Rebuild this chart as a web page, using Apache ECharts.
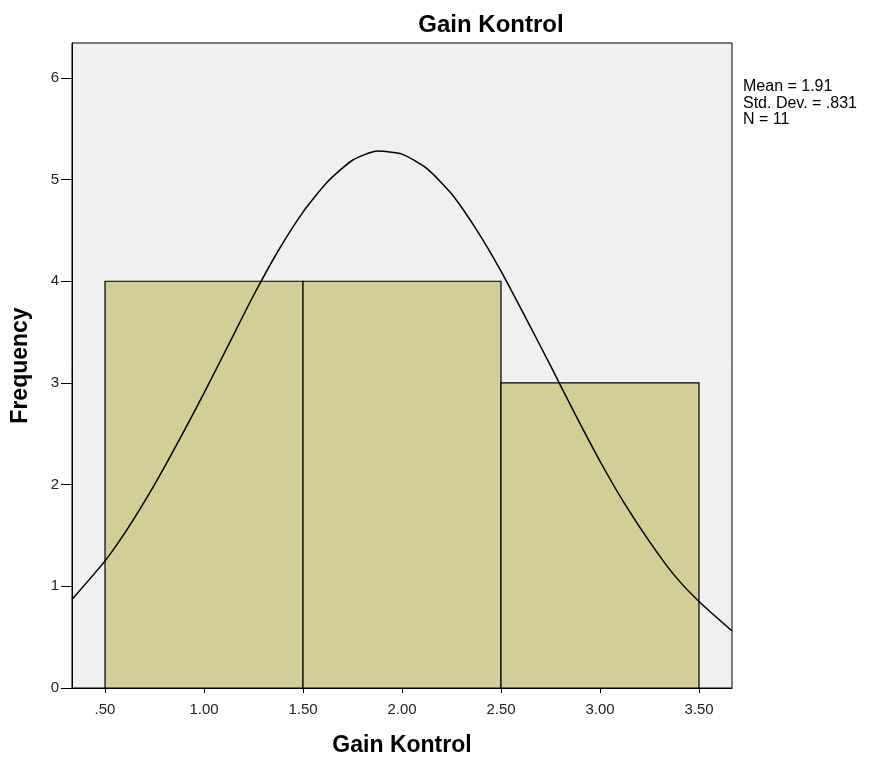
<!DOCTYPE html>
<html><head><meta charset="utf-8">
<script src="https://cdn.jsdelivr.net/npm/echarts@6/dist/echarts.min.js"></script>
<style>html,body{margin:0;padding:0;background:#fff}#c{width:869px;height:765px}</style>
</head><body><div id="c"></div>
<script>
const binStart = [0.5, 1.5, 2.5];
const binEnd = [1.5, 2.5, 3.5];
const counts = [4, 4, 3];
const curveX = [0.333, 0.5, 0.625, 0.75, 0.875, 1.0, 1.125, 1.25, 1.375, 1.5, 1.625, 1.75, 1.875, 2.0, 2.125, 2.25, 2.375, 2.5, 2.625, 2.75, 2.875, 3.0, 3.125, 3.25, 3.375, 3.5, 3.667];
const curveY = [0.87, 1.25, 1.60, 2.00, 2.44, 2.90, 3.38, 3.86, 4.30, 4.68, 4.98, 5.19, 5.28, 5.25, 5.11, 4.86, 4.51, 4.10, 3.64, 3.17, 2.69, 2.23, 1.81, 1.44, 1.11, 0.85, 0.56];
const xTicks = [0.5, 1.0, 1.5, 2.0, 2.5, 3.0, 3.5];
const yTicks = [0, 1, 2, 3, 4, 5, 6];
const statLines = ['Mean = 1.91', 'Std. Dev. = .831', 'N = 11'];

const chart = echarts.init(document.getElementById('c'));
const font = 'Arial, "Liberation Sans", sans-serif';
chart.setOption({
  animation: false,
  title: { text: 'Gain Kontrol', left: 486, top: 8, textAlign: 'center',
    textStyle: { fontFamily: font, fontSize: 24, fontWeight: 'bold', color: '#000' } },
  grid: { left: 72, right: 137, top: 43, bottom: 77, show: true, backgroundColor: '#f0f0f0', borderColor: '#000', borderWidth: 1 },
  xAxis: {
    type: 'value', min: 0.3333, max: 3.6667,
    name: 'Gain Kontrol', nameLocation: 'middle', nameGap: 46,
    nameTextStyle: { fontFamily: font, fontSize: 23, fontWeight: 'bold', color: '#000' },
    axisLine: { show: true, lineStyle: { color: '#000', width: 1 } },
    axisTick: { show: true, length: 5, lineStyle: { color: '#000' }, customValues: xTicks },
    axisLabel: { customValues: xTicks, fontFamily: font, fontSize: 15, color: '#222', margin: 14,
      formatter: v => { const s = v.toFixed(2); return s.startsWith('0') ? s.slice(1) : s; } },
    splitLine: { show: false }
  },
  yAxis: {
    type: 'value', min: 0, max: 6.343,
    name: 'Frequency', nameLocation: 'middle', nameGap: 40, nameRotate: 90,
    nameTextStyle: { fontFamily: font, fontSize: 23, fontWeight: 'bold', color: '#000' },
    axisLine: { show: true, lineStyle: { color: '#000', width: 1 } },
    axisTick: { show: true, length: 11, lineStyle: { color: '#000' }, customValues: yTicks },
    axisLabel: { customValues: yTicks, fontFamily: font, fontSize: 15, color: '#222', margin: 13 },
    splitLine: { show: false }
  },
  series: [
    {
      type: 'custom',
      data: counts.map((c, i) => [binStart[i], binEnd[i], c]),
      renderItem: (params, api) => {
        const p0 = api.coord([api.value(0), 0]);
        const p1 = api.coord([api.value(1), api.value(2)]);
        return {
          type: 'rect',
          shape: { x: p0[0], y: p1[1], width: p1[0] - p0[0], height: p0[1] - p1[1] },
          style: { fill: '#d3ce98', stroke: '#000', lineWidth: 1.2 }
        };
      },
      z: 2
    },
    {
      type: 'line', smooth: 0.2, showSymbol: false, symbol: 'none',
      data: curveX.map((x, i) => [x, curveY[i]]),
      lineStyle: { color: '#000', width: 1.5 }, z: 3, clip: true
    }
  ],
  graphic: statLines.map((t, i) => ({
    type: 'text', left: 743, top: 79 + i * 16.5,
    style: { text: t, fontFamily: font, fontSize: 16, fill: '#000' }
  }))
});
</script></body></html>
